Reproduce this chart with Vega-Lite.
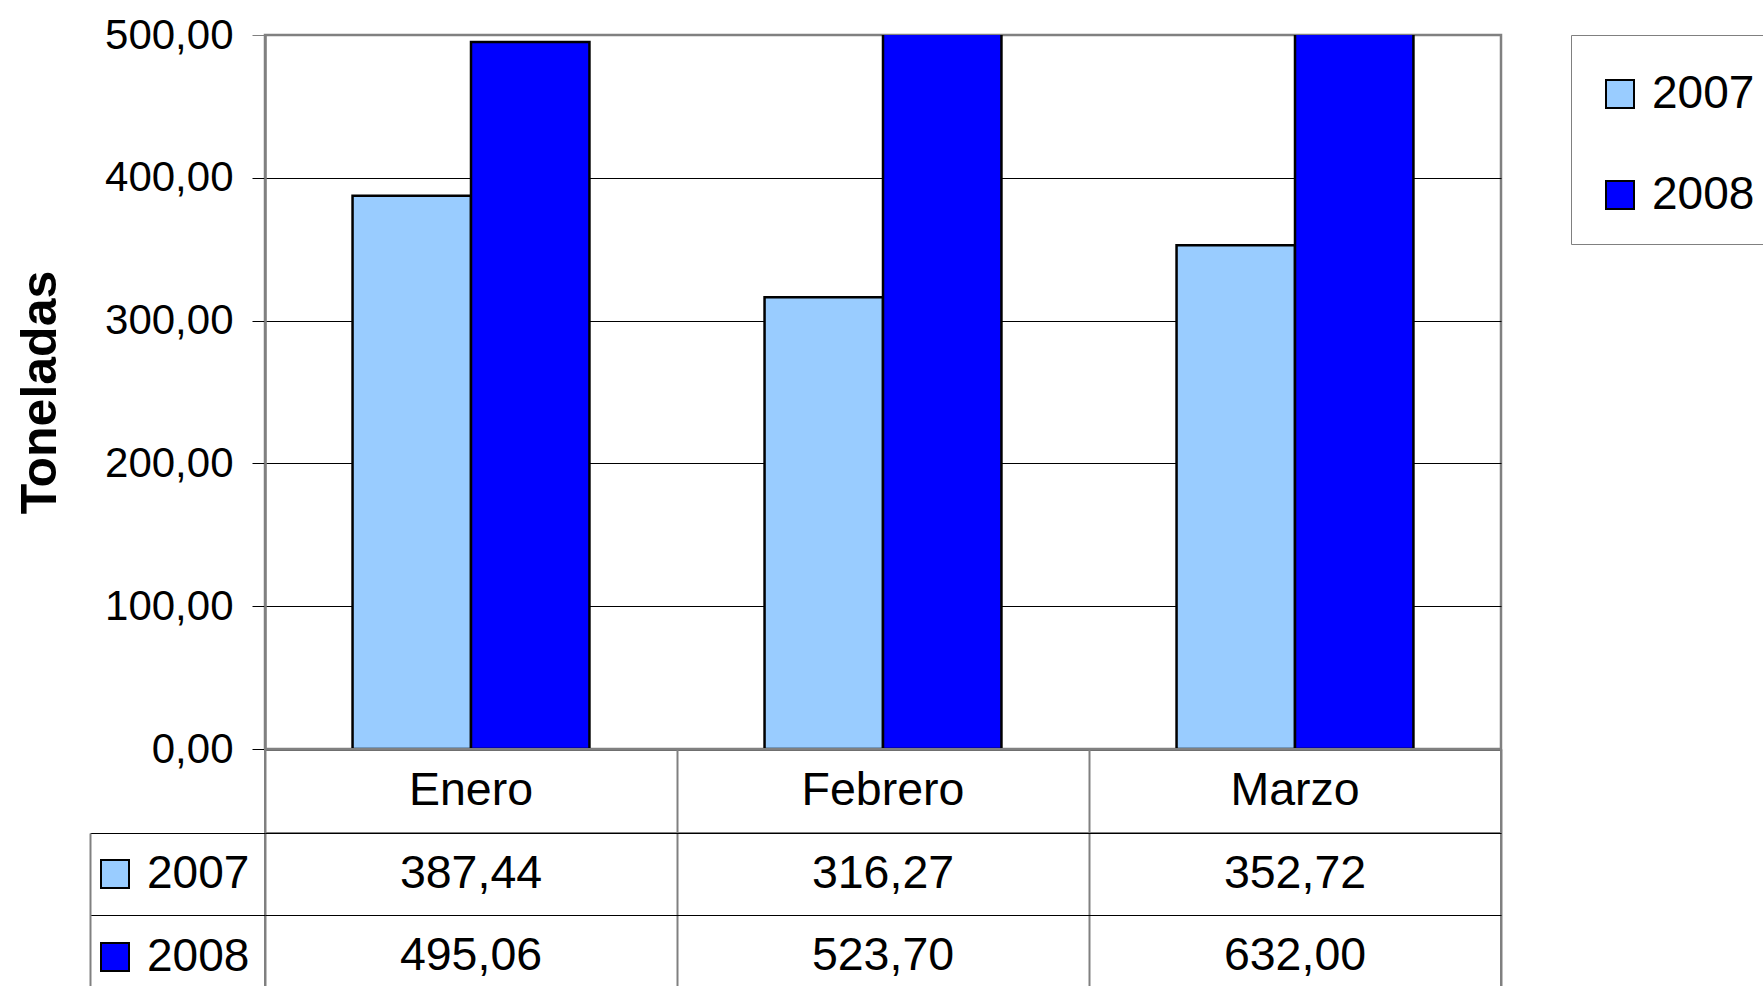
{
  "$schema": "https://vega.github.io/schema/vega-lite/v6.json",
  "background": "white",
  "padding": {"left": 14, "top": 12, "right": 0, "bottom": 0},
  "config": {
    "font": "Liberation Sans",
    "locale": {"number": {"decimal": ",", "thousands": ".", "grouping": [3], "currency": ["", " €"]}},
    "axis": {"labelColor": "black", "titleColor": "black"},
    "legend": {"labelColor": "black"}
  },
  "datasets": {
    "d": [
      {"month": "Enero", "year": "2007", "value": 387.44},
      {"month": "Enero", "year": "2008", "value": 495.06},
      {"month": "Febrero", "year": "2007", "value": 316.27},
      {"month": "Febrero", "year": "2008", "value": 523.70},
      {"month": "Marzo", "year": "2007", "value": 352.72},
      {"month": "Marzo", "year": "2008", "value": 632.00}
    ],
    "months": [
      {"month": "Enero"},
      {"month": "Febrero"},
      {"month": "Marzo"}
    ]
  },
  "spacing": 0,
  "bounds": "flush",
  "resolve": {
    "scale": {"x": "independent", "y": "independent", "color": "independent"},
    "legend": {"color": "independent"}
  },
  "vconcat": [
    {
      "width": 1236,
      "height": 714,
      "view": {"stroke": "#808080", "strokeWidth": 2.5},
      "data": {"name": "d"},
      "mark": {"type": "bar", "stroke": "black", "strokeWidth": 2.5, "clip": true},
      "encoding": {
        "x": {
          "field": "month", "type": "nominal", "sort": ["Enero", "Febrero", "Marzo"],
          "scale": {"paddingInner": 0.425, "paddingOuter": 0.2125},
          "axis": {"title": null, "labels": false, "ticks": false, "grid": false, "domain": true, "domainColor": "black", "domainWidth": 2}
        },
        "xOffset": {
          "field": "year", "type": "nominal", "sort": ["2007", "2008"],
          "scale": {"paddingInner": 0, "paddingOuter": 0}
        },
        "y": {
          "field": "value", "type": "quantitative",
          "scale": {"domain": [0, 500], "nice": false, "zero": true},
          "axis": {
            "values": [0, 100, 200, 300, 400, 500],
            "format": ".2f",
            "labelFontSize": 42,
            "labelPadding": 19,
            "tickSize": 13,
            "tickWidth": 1,
            "tickColor": {"condition": {"test": "datum.value === 500", "value": "#808080"}, "value": "black"},
            "domainColor": "#808080",
            "domainWidth": 2.5,
            "grid": true,
            "gridColor": {"condition": {"test": "datum.value === 500", "value": "#808080"}, "value": "black"},
            "gridWidth": 1,
            "title": "Toneladas",
            "titleFontSize": 50,
            "titleFontWeight": "bold",
            "titlePadding": 39
          }
        },
        "color": {
          "field": "year", "type": "nominal",
          "scale": {"domain": ["2007", "2008"], "range": ["#99ccff", "#0000ff"]},
          "legend": {
            "orient": "right",
            "title": " ",
            "titleFontSize": 1,
            "titlePadding": 9,
            "offset": 70,
            "padding": 26,
            "fillColor": "white",
            "strokeColor": "#808080",
            "symbolType": "square",
            "symbolSize": 784,
            "symbolStrokeColor": "black",
            "symbolStrokeWidth": 2,
            "labelFontSize": 46,
            "labelOffset": 9,
            "rowPadding": 55,
            "labelLimit": 0
          }
        }
      }
    },
    {
      "width": 1236,
      "height": 84,
      "view": {"stroke": "#808080", "strokeWidth": 2},
      "data": {"name": "months"},
      "mark": {"type": "text", "fontSize": 46.5, "color": "black"},
      "encoding": {
        "x": {
          "field": "month", "type": "nominal", "sort": ["Enero", "Febrero", "Marzo"],
          "scale": {"paddingInner": 0, "paddingOuter": 0},
          "axis": {"orient": "bottom", "title": null, "labels": false, "ticks": false, "domain": false, "grid": true, "tickBand": "extent", "gridColor": "#808080", "gridWidth": 2}
        },
        "text": {"field": "month"}
      }
    },
    {
      "width": 1236,
      "height": 164,
      "view": {"stroke": "#808080", "strokeWidth": 2},
      "data": {"name": "d"},
      "resolve": {"axis": {"y": "independent"}},
      "layer": [
        {
          "mark": {"type": "text", "fontSize": 46.5, "color": "black"},
          "encoding": {
            "x": {
              "field": "month", "type": "nominal", "sort": ["Enero", "Febrero", "Marzo"],
              "scale": {"paddingInner": 0, "paddingOuter": 0},
              "axis": {"orient": "bottom", "title": null, "labels": false, "ticks": false, "domain": false, "grid": true, "tickBand": "extent", "gridColor": "#808080", "gridWidth": 2}
            },
            "y": {
              "field": "year", "type": "nominal", "sort": ["2007", "2008"],
              "scale": {"paddingInner": 0, "paddingOuter": 0},
              "axis": {"orient": "left", "values": ["2007", "2008"], "tickBand": "extent", "labels": false, "ticks": true, "tickSize": 175, "tickColor": "black", "tickWidth": 1, "grid": true, "gridColor": "black", "gridWidth": 1, "domain": false, "title": null}
            },
            "text": {"field": "value", "type": "quantitative", "format": ".2f"}
          }
        },
        {
          "transform": [{"filter": "false"}],
          "mark": {"type": "square"},
          "encoding": {
            "y": {
              "field": "year", "type": "nominal", "sort": ["2007", "2008"],
              "axis": {"orient": "left", "offset": 175, "labels": false, "ticks": false, "grid": false, "domain": true, "domainColor": "#808080", "domainWidth": 2, "title": null}
            },
            "color": {
              "field": "year", "type": "nominal",
              "scale": {"domain": ["2007", "2008"], "range": ["#99ccff", "#0000ff"]},
              "legend": {
                "orient": "left",
                "title": null,
                "offset": -179,
                "padding": 18,
                "symbolType": "square",
                "symbolSize": 784,
                "symbolStrokeColor": "black",
                "symbolStrokeWidth": 2,
                "symbolOpacity": 1,
                "labelFontSize": 46,
                "labelOffset": 9,
                "rowPadding": 37,
                "labelLimit": 0
              }
            }
          }
        }
      ]
    }
  ]
}
